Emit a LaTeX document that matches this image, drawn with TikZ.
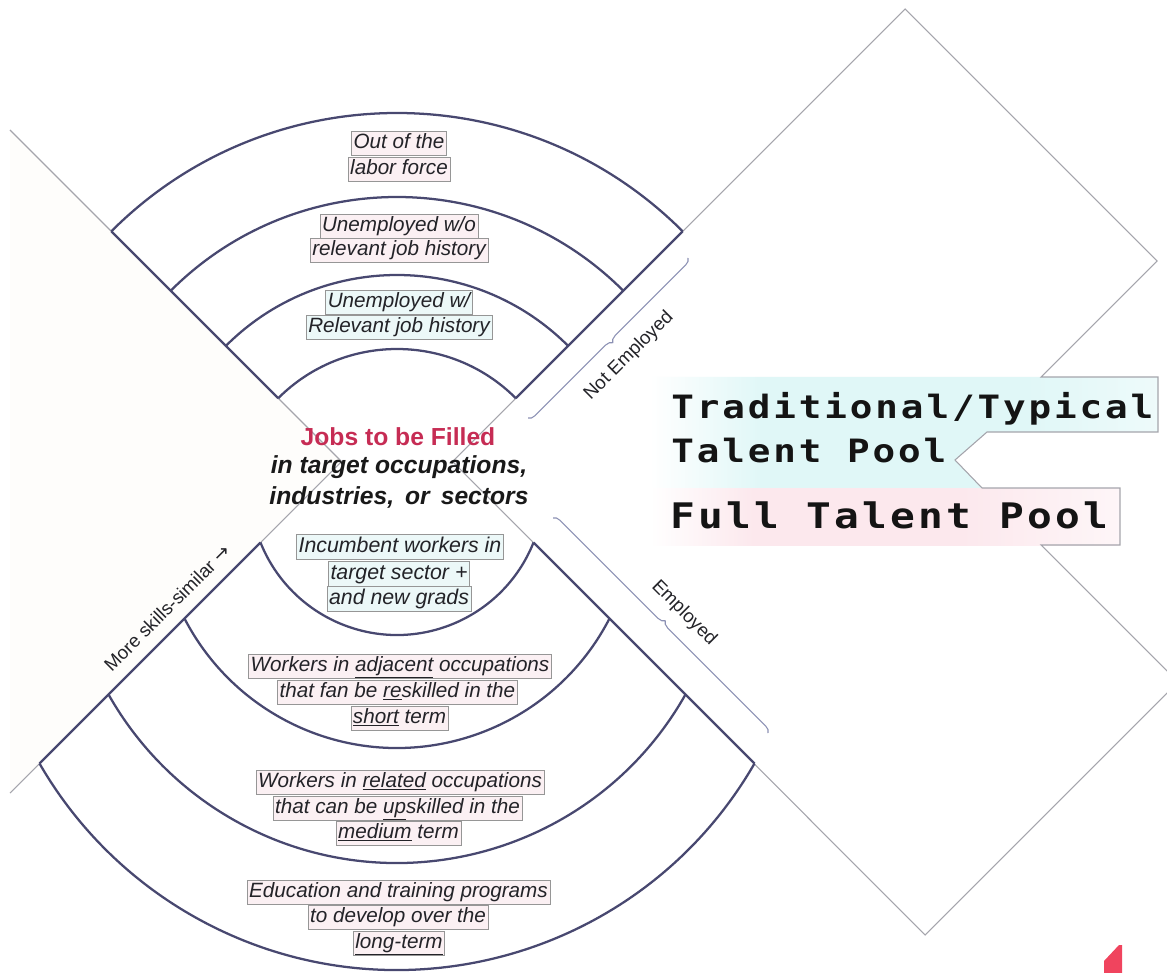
\documentclass[tikz,border=0pt]{standalone}
\usepackage{fontspec}
\setmainfont{Liberation Sans}
\newfontfamily\poolfont[LetterSpace=9, FakeStretch=1.17]{DejaVu Sans Mono}
\newfontfamily\arrowglyph{DejaVu Sans}
\usetikzlibrary{decorations.pathreplacing}

\definecolor{ringc}{RGB}{72,72,112}
\definecolor{edgec}{RGB}{165,165,172}
\definecolor{boxc}{RGB}{150,150,150}
\definecolor{pinkbg}{RGB}{251,240,243}
\definecolor{tealbg}{RGB}{236,248,248}
\definecolor{poolteal}{RGB}{224,247,247}
\definecolor{poolpink}{RGB}{252,232,237}
\definecolor{jobred}{RGB}{198,44,84}
\definecolor{txt}{RGB}{35,35,40}
\definecolor{bracec}{RGB}{140,145,180}
\definecolor{markred}{RGB}{240,68,94}
\definecolor{paneL}{RGB}{254,253,251}
\definecolor{paneR}{RGB}{255,255,255}

% soft horizontal fades behind the two pool headings
\pgfdeclarehorizontalshading{tealfade}{100bp}{color(0bp)=(paneR); color(25bp)=(paneR);
  color(36bp)=(poolteal); color(62bp)=(poolteal); color(75bp)=(poolteal!55!white); color(100bp)=(poolteal!55!white)}
\pgfdeclarehorizontalshading{pinkfade}{100bp}{color(0bp)=(paneR); color(25bp)=(paneR);
  color(36bp)=(poolpink); color(58bp)=(poolpink); color(75bp)=(poolpink!40!white); color(100bp)=(poolpink!40!white)}

\begin{document}
\begin{tikzpicture}[x=0.75pt,y=-0.75pt,
  ring/.style={draw=ringc, line width=1.7pt},
  spoke/.style={draw=ringc, line width=1.7pt},
  paneedge/.style={draw=edgec, line width=0.8pt, line join=miter},
  lbl/.style={draw=boxc, line width=0.5pt, inner sep=1.6pt, text height=11.5pt, text depth=3.3pt,
    font=\fontsize{15.5}{18}\selectfont\itshape, text=txt},
  pinkbox/.style={lbl, fill=pinkbg},
  tealbox/.style={lbl, fill=tealbg},
  bigbox/.style={tealbox, text height=11.9pt, text depth=3.4pt, font=\fontsize{16}{19}\selectfont\itshape},
  centre/.style={inner sep=0pt, text=black!90},
  bracket/.style={draw=bracec, line width=0.8pt, decorate, decoration={brace, amplitude=5pt}},
  sidelabel/.style={inner sep=0pt, text=txt, font=\fontsize{14}{16}\selectfont},
  pool/.style={anchor=base west, inner sep=0pt, text=black!92}
]
\useasboundingbox (0,0) rectangle (1167,973);
\clip (0,0) rectangle (1167,973);

% ---- left pane
\fill[paneL] (10,130) -- (341.5,461.5) -- (10,793) -- cycle;
\draw[paneedge] (10,130) -- (341.5,461.5) -- (10,793);

% ---- right pane with the two heading tabs
\fill[paneR] (452.5,461.5) -- (905,9) -- (1157,261) -- (1041,377) -- (1158,377) -- (1158,432)
  -- (987,432) -- (955,460) -- (982,488) -- (1120,488) -- (1120,545) -- (1041,545)
  -- (1178,682) -- (925,935) -- cycle;
\shade[shading=tealfade] (650,377) -- (1158,377) -- (1158,432) -- (987,432) -- (955,460)
  -- (982,488) -- (650,488) -- cycle;
\shade[shading=pinkfade] (650,488) rectangle (1120,545);
\draw[paneedge] (452.5,461.5) -- (905,9) -- (1157,261) -- (1041,377) -- (1158,377) -- (1158,432)
  -- (987,432) -- (955,460) -- (982,488) -- (1120,488) -- (1120,545) -- (1041,545)
  -- (1178,682) -- (925,935) -- cycle;

% ---- upper rings (not employed)
\coordinate (U) at (397,517);
\foreach \r [count=\i] in {404,320,242,168}{
  \draw[ring] (U) ++(-135:\r) coordinate (ul\i) arc[start angle=-135, end angle=-45, radius=\r] coordinate (ur\i);
}
\draw[spoke] (ul1) -- (ul4);
\draw[spoke] (ur1) -- (ur4);

% ---- lower rings (employed)
\draw[ring] (397,488) ++(21.77:147) coordinate (lr1) arc[start angle=21.77, end angle=158.23, radius=147] coordinate (ll1);
\draw[ring] (397,508.9) ++(27.28:239.1) coordinate (lr2) arc[start angle=27.28, end angle=152.72, radius=239.1] coordinate (ll2);
\draw[ring] (397,531.8) ++(29.42:331.2) coordinate (lr3) arc[start angle=29.42, end angle=150.58, radius=331.2] coordinate (ll3);
\draw[ring] (397,557.3) ++(29.98:412.7) coordinate (lr4) arc[start angle=29.98, end angle=150.02, radius=412.7] coordinate (ll4);
\draw[spoke] (ll1) -- (ll4);
\draw[spoke] (lr1) -- (lr4);

% ---- braces and their labels
\coordinate (neA) at (688,258);
\coordinate (neB) at (528,418);
\coordinate (emA) at (553,518);
\coordinate (emB) at (768,733);
\draw[bracket] (neA) -- (neB);
\draw[bracket] (emA) -- (emB);
\node[sidelabel, rotate=45] (notemp) at (629,356) {Not Employed};
\node[sidelabel, rotate=-45] (emp) at (684,613) {Employed};
\node[sidelabel, rotate=45] (skills) at (167,608) {More skills-similar {\arrowglyph →}};

% ---- ring labels
\node[pinkbox] (out1) at (399,143) {Out of the};
\node[pinkbox] (out2) at (399,169) {labor force};
\node[pinkbox] (uno1) at (399,226) {Unemployed w/o};
\node[pinkbox] (uno2) at (399,250) {relevant job history};
\node[tealbox] (uw1) at (399,302) {Unemployed w/};
\node[tealbox] (uw2) at (399,327) {Relevant job history};

\node[centre, text=jobred, font=\fontsize{18.5}{22}\selectfont\bfseries] (jobs1) at (398,437) {Jobs to be Filled};
\node[centre, font=\fontsize{18.5}{22}\selectfont\bfseries\itshape] (jobs2) at (399,467) {in target occupations,};
\node[centre, font=\fontsize{18.5}{22}\selectfont\bfseries\itshape] (jobs3) at (399,497) {industries,\, or\, sectors};

\node[bigbox] (inc1) at (400,547) {Incumbent workers in};
\node[bigbox] (inc2) at (399,574) {target sector +};
\node[bigbox] (inc3) at (399,599) {and new grads};

\node[pinkbox] (adj1) at (400,666) {Workers in \underline{adjacent} occupations};
\node[pinkbox] (adj2) at (397.5,692) {that fan be \underline{re}skilled in the};
\node[pinkbox] (adj3) at (399.5,718) {\underline{short} term};
\node[pinkbox] (rel1) at (400,782) {Workers in \underline{related} occupations};
\node[pinkbox] (rel2) at (397.5,808) {that can be \underline{up}skilled in the};
\node[pinkbox] (rel3) at (398.5,833) {\underline{medium} term};
\node[pinkbox] (edu1) at (398.5,892) {Education and training programs};
\node[pinkbox] (edu2) at (398,917) {to develop over the};
\node[pinkbox] (edu3) at (399,943) {\underline{long-term}};

% ---- pool headings
\node[pool, font=\poolfont\bfseries\fontsize{24.1}{28}\selectfont] (trad1) at (671,418) {Traditional/Typical};
\node[pool, font=\poolfont\bfseries\fontsize{24.1}{28}\selectfont] (trad2) at (671,462) {Talent Pool};
\node[pool, font=\poolfont\bfseries\fontsize{26.4}{30}\selectfont] (full) at (670,528) {Full Talent Pool};

% ---- corner mark
\fill[markred] (1104,973) -- (1104,961) -- (1119,945) -- (1122,945) -- (1122,973) -- cycle;
\end{tikzpicture}
\end{document}
